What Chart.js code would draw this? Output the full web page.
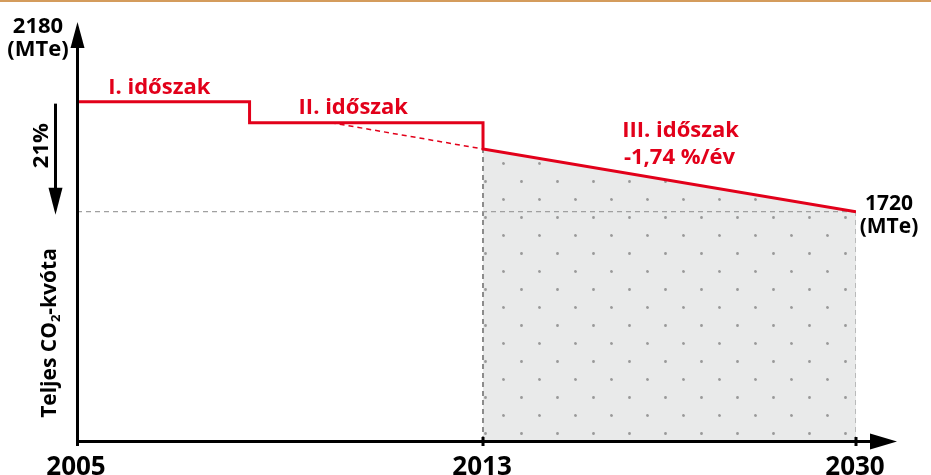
<!DOCTYPE html>
<html>
<head>
<meta charset="utf-8">
<script src="https://cdn.jsdelivr.net/npm/chart.js@4"></script>
<style>
  html, body { margin: 0; padding: 0; background: #fff; }
  #wrap { position: relative; width: 931px; height: 475px; box-sizing: border-box; border-top: 2px solid #d49c5c; }
</style>
</head>
<body>
<div id="wrap"><canvas id="quota" width="931" height="473"></canvas></div>
<script>
// emission cap path (MTe), by year
const capYears = [2005, 2008.4, 2008.4, 2013, 2013, 2030];
const capValues = [2180, 2180, 2092, 2092, 1982, 1720];
// phase III trend extended back into phase II (dashed)
const trendYears = [2010, 2013];
const trendValues = [2092, 1982];
// phase III area
const areaYears = [2013, 2030];
const areaValues = [1982, 1720];

const tickYears = [2005, 2013, 2030];
const tickLabels = ["2005", "2013", "2030"];
const periodLabels = ["I. időszak", "II. időszak", "III. időszak"];
const rateLabel = "-1,74 %/év";
const startLabel = "2180", endLabel = "1720", unitLabel = "(MTe)";
const dropLabel = "21%";

const RED = "#e2001a";
const FONT = "'Open Sans', 'Noto Sans', sans-serif";

// x axis is drawn schematic: 2005-2013 gets more room than 2013-2030
const xBreaks = [2005, 2013, 2030];
const xBreakFrac = [0, 0.5212, 1];

class PiecewiseScale extends Chart.LinearScale {
  getPixelForValue(value) {
    let i = 0;
    while (i < xBreaks.length - 2 && value > xBreaks[i + 1]) i++;
    const t = (value - xBreaks[i]) / (xBreaks[i + 1] - xBreaks[i]);
    return this.getPixelForDecimal(xBreakFrac[i] + t * (xBreakFrac[i + 1] - xBreakFrac[i]));
  }
}
PiecewiseScale.id = "piecewise";
PiecewiseScale.defaults = Chart.LinearScale.defaults;
Chart.register(PiecewiseScale);

const pts = (xs, ys) => xs.map((x, i) => ({ x, y: ys[i] }));

function dotPattern() {
  const c = document.createElement("canvas");
  c.width = 36; c.height = 36;
  const g = c.getContext("2d");
  g.fillStyle = "#e9eaea";
  g.fillRect(0, 0, 36, 36);
  g.fillStyle = "#999";
  [[17, 35], [35, 17]].forEach(([dx, dy]) => {
    for (let i = -1; i <= 1; i++) for (let j = -1; j <= 1; j++) {
      g.beginPath();
      g.arc(dx + 36 * i + 0.5, dy + 36 * j + 0.5, 1.4, 0, Math.PI * 2);
      g.fill();
    }
  });
  return g.createPattern(c, "repeat");
}

const deco = {
  id: "deco",
  afterDatasetsDraw(chart) {
    const ctx = chart.ctx, a = chart.chartArea;
    const xs = chart.scales.x, ys = chart.scales.y;
    const X = v => xs.getPixelForValue(v), Y = v => ys.getPixelForValue(v);
    ctx.save();

    // axes
    ctx.strokeStyle = "#000";
    ctx.fillStyle = "#000";
    ctx.lineWidth = 3;
    ctx.beginPath();
    ctx.moveTo(a.left + 0.5, a.bottom + 5);
    ctx.lineTo(a.left + 0.5, a.top + 20);
    ctx.moveTo(a.left - 1, a.bottom + 0.5);
    ctx.lineTo(a.right + 18, a.bottom + 0.5);
    ctx.stroke();
    ctx.beginPath();
    ctx.moveTo(a.left + 0.5, a.top);
    ctx.lineTo(a.left - 6.5, a.top + 26);
    ctx.lineTo(a.left + 7.5, a.top + 26);
    ctx.closePath();
    ctx.fill();
    ctx.beginPath();
    ctx.moveTo(a.right + 41, a.bottom + 0.5);
    ctx.lineTo(a.right + 14, a.bottom - 7.5);
    ctx.lineTo(a.right + 14, a.bottom + 8.5);
    ctx.closePath();
    ctx.fill();
    // ticks
    ctx.lineWidth = 3;
    tickYears.slice(1).forEach(v => {
      ctx.beginPath();
      ctx.moveTo(X(v), a.bottom - 4);
      ctx.lineTo(X(v), a.bottom + 5);
      ctx.stroke();
    });

    // tick labels
    ctx.font = "bold 26px " + FONT;
    ctx.textAlign = "center";
    ctx.textBaseline = "alphabetic";
    tickYears.forEach((v, i) => ctx.fillText(tickLabels[i], X(v) - 1, a.bottom + 34));

    // start / end values
    ctx.font = "bold 22px " + FONT;
    ctx.fillText(startLabel, a.left - 39, a.top + 11);
    ctx.fillText(unitLabel, a.left - 39, a.top + 34);
    ctx.font = "bold 21px " + FONT;
    ctx.fillText(endLabel, X(2030) + 33, Y(1720) - 2);
    ctx.fillText(unitLabel, X(2030) + 33, Y(1720) + 21);

    // 21% arrow
    const ax = a.left - 21.5;
    ctx.lineWidth = 3;
    ctx.beginPath();
    ctx.moveTo(ax, Y(2180) + 2);
    ctx.lineTo(ax, Y(1720) - 18);
    ctx.stroke();
    ctx.beginPath();
    ctx.moveTo(ax, Y(1720) + 3);
    ctx.lineTo(ax - 7, Y(1720) - 24);
    ctx.lineTo(ax + 7, Y(1720) - 24);
    ctx.closePath();
    ctx.fill();

    // rotated texts
    ctx.font = "bold 22px " + FONT;
    ctx.save();
    ctx.translate(a.left - 29, Y(2180) + 44);
    ctx.rotate(-Math.PI / 2);
    ctx.fillText(dropLabel, 0, 0);
    ctx.restore();

    ctx.save();
    ctx.translate(a.left - 21, 331);
    ctx.rotate(-Math.PI / 2);
    ctx.textAlign = "left";
    const big = "bold 21px " + FONT, small = "bold 13px " + FONT;
    ctx.font = big;
    const p1 = "Teljes CO", p3 = "-kvóta";
    ctx.font = small;
    const w2 = ctx.measureText("2").width;
    ctx.font = big;
    const w1 = ctx.measureText(p1).width, w3 = ctx.measureText(p3).width;
    let x0 = -(w1 + w2 + w3) / 2;
    ctx.fillText(p1, x0, 0);
    ctx.font = small;
    ctx.fillText("2", x0 + w1, 4);
    ctx.font = big;
    ctx.fillText(p3, x0 + w1 + w2, 0);
    ctx.restore();

    // period labels
    ctx.fillStyle = RED;
    ctx.font = "bold 22px " + FONT;
    ctx.textAlign = "center";
    ctx.fillText(periodLabels[0], (X(2005) + X(2008.4)) / 2 - 4, Y(2180) - 8);
    ctx.fillText(periodLabels[1], (X(2008.4) + X(2013)) / 2 - 13, Y(2092) - 9);
    ctx.fillText(periodLabels[2], (X(2013) + X(2030)) / 2 + 11, Y(1982) - 12);
    ctx.fillText(rateLabel, (X(2013) + X(2030)) / 2 + 10, Y(1982) + 15);

    ctx.restore();
  }
};

new Chart(document.getElementById("quota"), {
  type: "line",
  data: {
    datasets: [
      { data: pts(capYears, capValues), borderColor: RED, borderWidth: 3, fill: false },
      { data: pts(trendYears, trendValues), borderColor: RED, borderWidth: 1.5, borderDash: [5, 4], fill: false },
      { data: pts([2005, 2030], [1720, 1720]), borderColor: "#a0a0a0", borderWidth: 1.2, borderDash: [5, 4], fill: false },
      { data: pts([2013, 2013], [761, 1982]), borderColor: "#8c8c8c", borderWidth: 2, borderDash: [5, 4], fill: false },
      { data: pts([2030, 2030], [761, 1720]), borderColor: "#9a9a9a", borderWidth: 1.2, borderDash: [5, 4], fill: false },
      { data: pts(areaYears, areaValues), borderWidth: 0, borderColor: "rgba(0,0,0,0)", backgroundColor: dotPattern(), fill: "start" }
    ]
  },
  options: {
    responsive: false,
    animation: false,
    events: [],
    layout: { padding: { left: 77, right: 75, top: 20, bottom: 34 } },
    elements: { point: { radius: 0 }, line: { tension: 0 } },
    plugins: { legend: { display: false }, tooltip: { enabled: false } },
    scales: {
      x: { type: "piecewise", min: 2005, max: 2030, display: false },
      y: { type: "linear", min: 761, max: 2513, display: false }
    }
  },
  plugins: [deco]
});
</script>
</body>
</html>
